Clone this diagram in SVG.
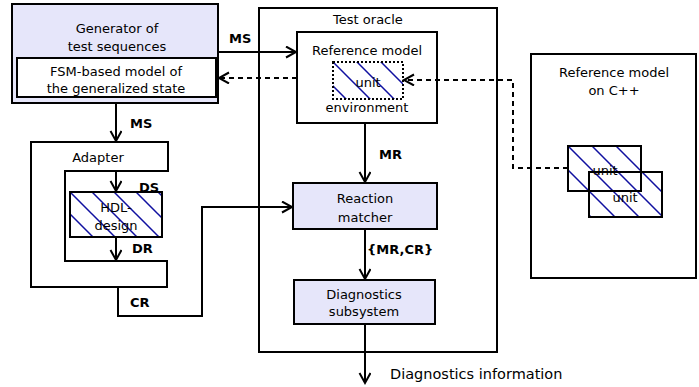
<svg xmlns="http://www.w3.org/2000/svg" width="699" height="387" viewBox="0 0 699 387">
<style>
.box{stroke:#000;stroke-width:2;fill:#fff}
.fill{fill:#e6e6fa}
.t{font-family:"DejaVu Sans",Verdana,sans-serif;font-size:13px;fill:#000}
.c{text-anchor:middle}
.b{font-weight:bold}
.ln{stroke:#000;stroke-width:2;fill:none}
.dash{stroke-dasharray:5,4}
</style>
<defs>
<marker id="arr" markerUnits="userSpaceOnUse" markerWidth="14" markerHeight="14" refX="11" refY="6" orient="auto">
<polyline points="1,0.5 11,6 1,11.5" fill="none" stroke="#000" stroke-width="2"/>
</marker>
<pattern id="h1" patternUnits="userSpaceOnUse" x="70" y="192" width="22" height="22">
<path d="M0,0L22,22M-2,20L2,24M20,-2L24,2" stroke="#1010a0" stroke-width="1.5"/>
</pattern>
<pattern id="h2" patternUnits="userSpaceOnUse" x="333" y="62" width="24" height="24">
<path d="M0,0L24,24M-2,22L2,26M22,-2L26,2" stroke="#1010a0" stroke-width="1.5"/>
</pattern>
<pattern id="h3" patternUnits="userSpaceOnUse" x="568" y="146" width="24" height="24">
<path d="M0,0L24,24M-2,22L2,26M22,-2L26,2" stroke="#1010a0" stroke-width="1.5"/>
</pattern>
</defs>

<g id="generator">
<rect class="box fill" x="12" y="4" width="206" height="99"/>
<text class="t c" x="117" y="33">Generator of</text>
<text class="t c" x="117" y="51">test sequences</text>
<rect class="box" x="17" y="58" width="199" height="39"/>
<text class="t c" x="116" y="76">FSM-based model of</text>
<text class="t c" x="116" y="93">the generalized state</text>
</g>

<g id="adapter">
<polygon class="box" points="31,142 168,142 168,171 65,171 65,261 167,261 167,287 31,287"/>
<text class="t c" x="98" y="162">Adapter</text>
</g>

<g id="hdl">
<rect x="70" y="192" width="92" height="45" fill="#fff"/>
<rect x="70" y="192" width="92" height="45" fill="url(#h1)"/>
<rect x="70" y="192" width="92" height="45" fill="none" stroke="#000" stroke-width="2"/>
<text class="t c" x="116" y="212">HDL-</text>
<text class="t c" x="116" y="230">design</text>
</g>

<g id="oracle">
<rect class="box" x="259" y="8" width="238" height="344"/>
<text class="t c" x="368" y="24">Test oracle</text>
</g>

<g id="refmodel">
<rect class="box" x="297" y="32" width="140" height="91"/>
<text class="t c" x="367" y="55">Reference model</text>
<rect x="333" y="62" width="70" height="37" fill="url(#h2)"/>
<rect x="333" y="62" width="70" height="37" fill="none" stroke="#000" stroke-width="2" stroke-dasharray="2,2"/>
<text class="t c" x="368" y="87">unit</text>
<text class="t c" x="367" y="112">environment</text>
</g>

<g id="matcher">
<rect class="box fill" x="293" y="183" width="144" height="46"/>
<text class="t c" x="365" y="203">Reaction</text>
<text class="t c" x="365" y="222">matcher</text>
</g>

<g id="diagnostics">
<rect class="box fill" x="294" y="280" width="141" height="44"/>
<text class="t c" x="364" y="299">Diagnostics</text>
<text class="t c" x="364" y="316">subsystem</text>
</g>

<g id="cpp">
<rect class="box" x="531" y="54" width="165" height="224"/>
<text class="t c" x="614" y="77">Reference model</text>
<text class="t c" x="614" y="95">on C++</text>
<rect class="box" x="589" y="172" width="73" height="45"/>
<rect x="589" y="172" width="73" height="45" fill="url(#h3)"/>
<text class="t c" x="625" y="202">unit</text>
<rect class="box" x="568" y="146" width="73" height="45"/>
<rect x="568" y="146" width="73" height="45" fill="url(#h3)"/>
<rect x="589" y="172" width="73" height="45" fill="none" stroke="#000" stroke-width="2"/>
<rect x="568" y="146" width="73" height="45" fill="none" stroke="#000" stroke-width="2"/>
<text class="t c" x="605" y="175">unit</text>
</g>

<g id="connectors">
<line class="ln" x1="218" y1="52" x2="296" y2="52" marker-end="url(#arr)"/>
<text class="t b" x="229" y="43">MS</text>
<line class="ln dash" x1="297" y1="78" x2="219" y2="78" marker-end="url(#arr)"/>
<polyline class="ln dash" points="568,168 513,168 513,80 404,80" marker-end="url(#arr)"/>
<line class="ln" x1="116" y1="103" x2="116" y2="141" marker-end="url(#arr)"/>
<text class="t b" x="130" y="128">MS</text>
<line class="ln" x1="116" y1="171" x2="116" y2="191" marker-end="url(#arr)"/>
<text class="t b" x="139" y="192">DS</text>
<line class="ln" x1="116" y1="237" x2="116" y2="260" marker-end="url(#arr)"/>
<text class="t b" x="132" y="253">DR</text>
<polyline class="ln" points="118,287 118,316 202,316 202,207 292,207" marker-end="url(#arr)"/>
<text class="t b" x="130" y="307">CR</text>
<line class="ln" x1="365" y1="123" x2="365" y2="182" marker-end="url(#arr)"/>
<text class="t b" x="379" y="159">MR</text>
<line class="ln" x1="365" y1="229" x2="365" y2="279" marker-end="url(#arr)"/>
<text class="t b" x="367" y="254">{MR,CR}</text>
<line class="ln" x1="365" y1="324" x2="365" y2="383" marker-end="url(#arr)"/>
<text class="t" x="390" y="379" style="font-size:14.5px">Diagnostics information</text>
</g>
</svg>
